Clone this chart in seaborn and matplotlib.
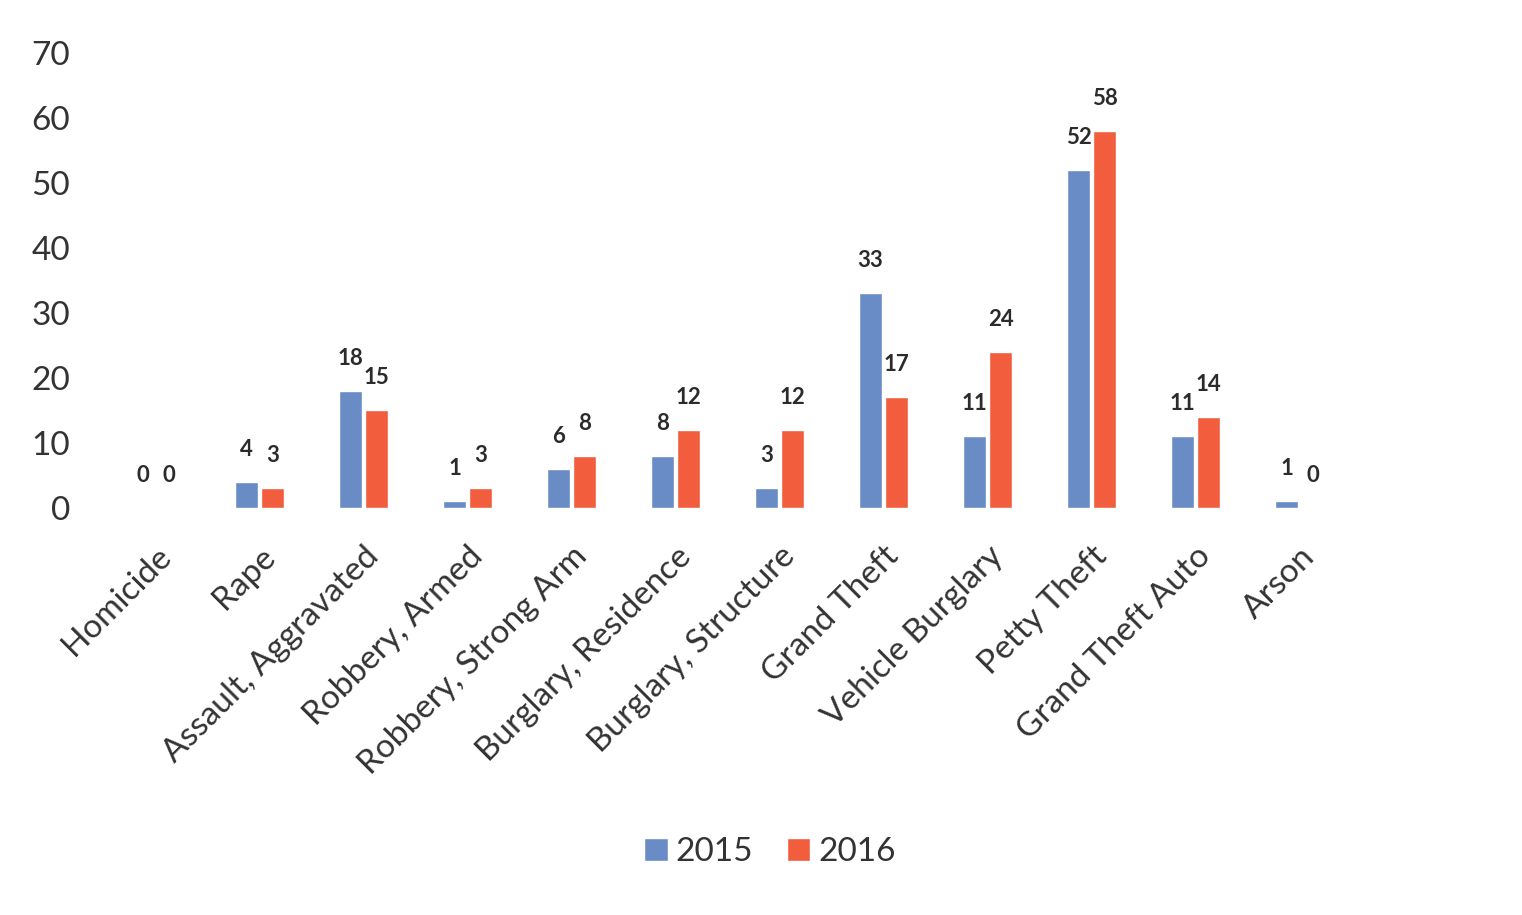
import numpy as np
import pandas as pd
import seaborn as sns
import matplotlib.pyplot as plt

# data
categories = ['Homicide', 'Rape', 'Assault, Aggravated', 'Robbery, Armed',
              'Robbery, Strong Arm', 'Burglary, Residence', 'Burglary, Structure',
              'Grand Theft', 'Vehicle Burglary', 'Petty Theft', 'Grand Theft Auto', 'Arson']
counts_2015 = [0, 4, 18, 1, 6, 8, 3, 33, 11, 52, 11, 1]
counts_2016 = [0, 3, 15, 3, 8, 12, 12, 17, 24, 58, 14, 0]
years = ['2015', '2016']
y_ticks = [0, 10, 20, 30, 40, 50, 60, 70]

df = pd.DataFrame({
    'crime': categories * 2,
    'year': [years[0]] * len(categories) + [years[1]] * len(categories),
    'count': counts_2015 + counts_2016,
})

sns.set_theme(style='white')
plt.rcParams['font.family'] = ['Lato', 'DejaVu Sans']

fig = plt.figure(figsize=(15.22, 9.15), dpi=100)
ax = fig.add_axes([0.068, 0.445, 0.82, 0.497])

sns.barplot(data=df, x='crime', y='count', hue='year', order=categories,
            hue_order=years, palette=['#6a8cc6', '#f25d3d'], saturation=1,
            width=0.5, gap=0.12, ax=ax)

for cont in ax.containers:
    ax.bar_label(cont, fmt='%d', padding=16, fontsize=16, fontweight='bold',
                 color='#2b2b2b')

ax.set_ylim(0, 70)
ax.set_yticks(y_ticks)
ax.set_xlim(-0.5, len(categories) - 0.5)
ax.tick_params(axis='y', labelsize=24, labelcolor='#333333', length=0, pad=24)
ax.tick_params(axis='x', labelsize=24, labelcolor='#333333', length=0, pad=24)
plt.setp(ax.get_xticklabels(), rotation=45, ha='right', rotation_mode='anchor')
ax.set_xlabel('')
ax.set_ylabel('')
sns.despine(ax=ax, left=True, bottom=True)

leg = ax.legend(loc='center', bbox_to_anchor=(770 / 1522, 1 - 852 / 915),
                bbox_transform=fig.transFigure, ncol=2, frameon=False,
                fontsize=24, handlelength=0.7, handleheight=0.7,
                handletextpad=0.25, columnspacing=1.0)
for t in leg.get_texts():
    t.set_color('#333333')

fig.savefig('out.png', dpi=100, facecolor='white')
